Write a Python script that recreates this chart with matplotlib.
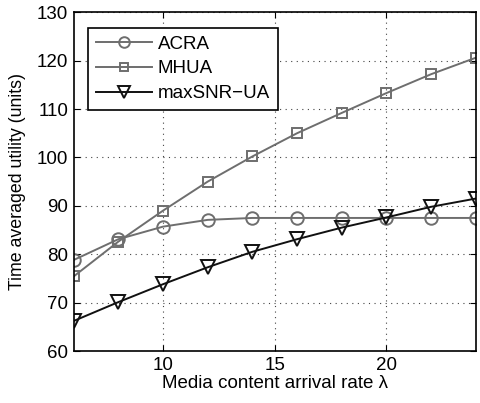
import matplotlib
matplotlib.use("Agg")
import matplotlib.pyplot as plt

plt.rcParams['font.family'] = ['Liberation Sans', 'DejaVu Sans']

x = [6, 8, 10, 12, 14, 16, 18, 20, 22, 24]
acra = [78.8, 83.1, 85.7, 87.1, 87.5, 87.5, 87.5, 87.5, 87.5, 87.5]
mhua = [75.4, 82.6, 89.0, 95.0, 100.2, 105.0, 109.2, 113.3, 117.2, 120.6]
maxsnr = [66.2, 70.1, 73.8, 77.3, 80.5, 83.1, 85.5, 87.6, 89.8, 91.5]

gray = '#6e6e6e'
fs = 13.5

fig = plt.figure(figsize=(4.81, 4.03), dpi=100)
ax = fig.add_axes([0.153, 0.129, 0.836, 0.8405])

ax.plot(x, acra, color=gray, marker='o', mfc='none', ms=9, mew=1.4, lw=1.4, label='ACRA')
ax.plot(x, mhua, color=gray, marker='s', mfc='none', ms=7.5, mew=1.4, lw=1.4, label='MHUA')
ax.plot(x, maxsnr, color='#111111', marker='v', mfc='none', ms=10, mew=1.4, lw=1.4, label='maxSNR\u2212UA')

ax.set_xlim(6, 24)
ax.set_ylim(60, 130)
ax.set_xticks([10, 15, 20])
ax.set_yticks(range(60, 131, 10))
ax.grid(True, linestyle=(0, (1, 4)), color='#444444', lw=0.8)
ax.tick_params(direction='in', top=True, right=True, labelsize=fs, length=4, pad=4)
for s in ax.spines.values():
    s.set_linewidth(1.2)

ax.set_xlabel('Media content arrival rate \u03bb', fontsize=fs, labelpad=1)
ax.set_ylabel('Time averaged utility (units)', fontsize=12.8)
ax.yaxis.set_label_coords(-0.118, 0.5)

leg = ax.legend(loc='upper left', bbox_to_anchor=(0.036, 0.954), borderaxespad=0,
                fontsize=fs, fancybox=False, edgecolor='black', framealpha=1,
                handlelength=3.0, handletextpad=0.3, borderpad=0.42, labelspacing=0.4,
                markerscale=0.85)
leg.get_frame().set_linewidth(1.2)

fig.savefig('out.png', dpi=100)
